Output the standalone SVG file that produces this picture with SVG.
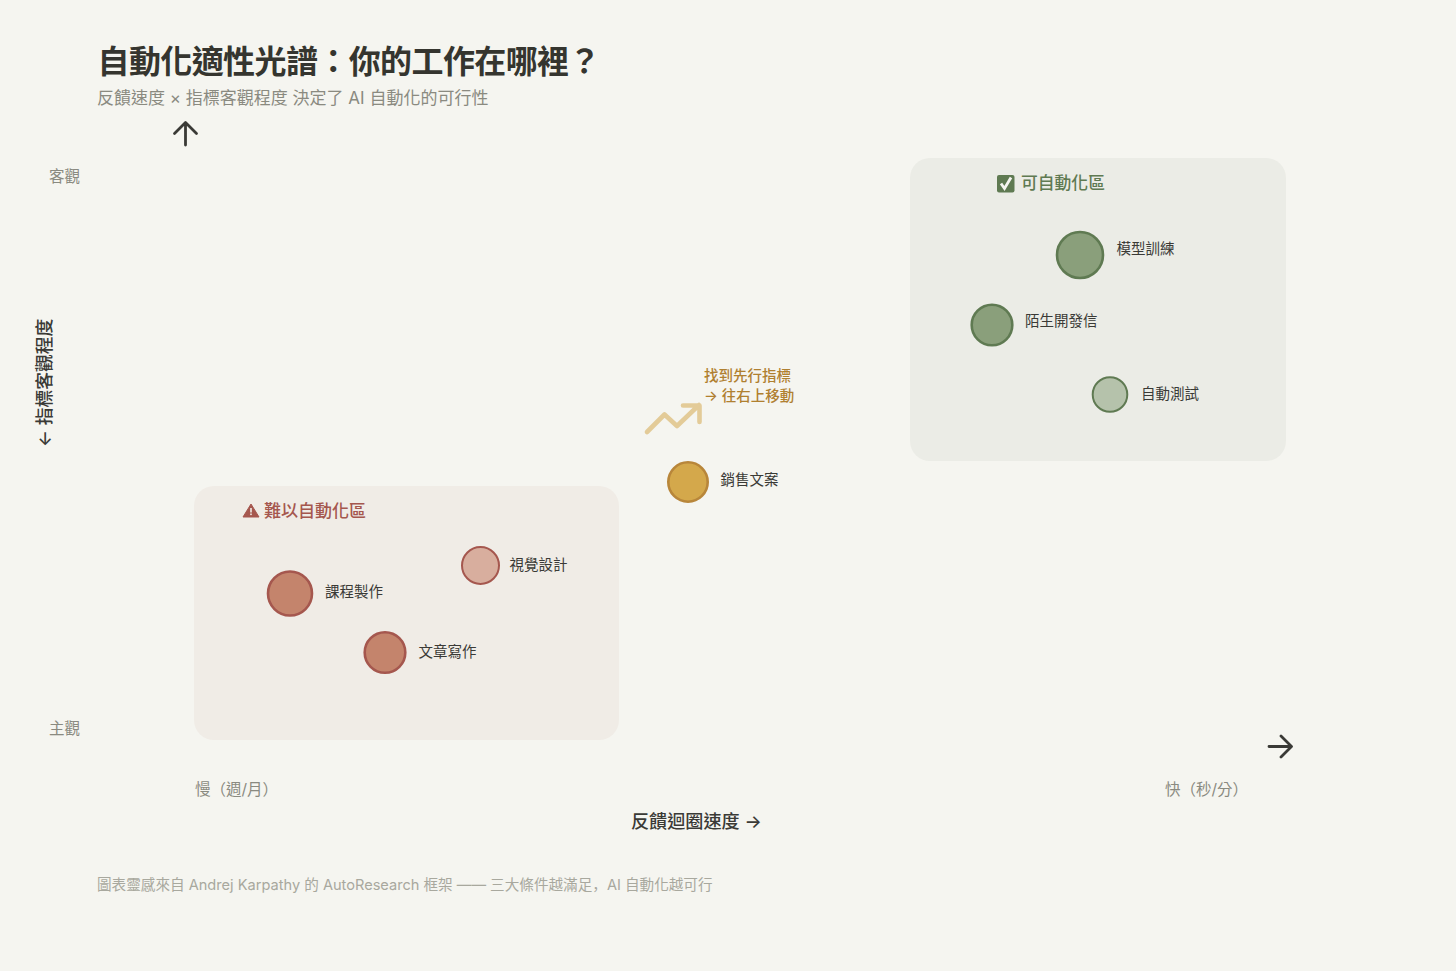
<svg xmlns="http://www.w3.org/2000/svg" width="1456" height="971" viewBox="0 0 1456 971">
<style>
text{font-family:Inter,"Noto Sans CJK TC","Noto Sans CJK SC",sans-serif}
.lbl{font-size:14.5px;fill:#3a3a36}
.axis{font-size:15.500px;fill:#8a8a80}
.green{fill:#8a9f7b;stroke:#5f7a52;stroke-width:2.6}
.greenl{fill:#b5c2ab;stroke:#5f7a52;stroke-width:2}
.red{fill:#c4846c;stroke:#a5574e;stroke-width:2.6}
.redl{fill:#d8ae9e;stroke:#a5574e;stroke-width:2}
.gold{fill:#d4a84b;stroke:#b8863a;stroke-width:2.6}
.arrow{fill:none;stroke:#3a3a36;stroke-width:2.8;stroke-linecap:round;stroke-linejoin:round}
</style>
<rect width="1456" height="971" fill="#f5f5f0"/>
<g id="header">
<text x="97.500" y="73" font-size="32" font-weight="700" fill="#35352f" letter-spacing="-0.6">自動化適性光譜&#xFF1A;你的工作在哪裡&#xFF1F;</text>
<text x="97" y="104" font-size="17" fill="#8a8a80">反饋速度 × 指標客觀程度 決定了 AI 自動化的可行性</text>
</g>
<g id="zones">
<g id="zone-auto">
<rect x="910" y="158" width="376" height="303" rx="20" fill="#ebece6"/>
<rect x="997" y="175" width="17.500" height="17.500" rx="2" fill="#5f7a52"/>
<path d="M1001 183.500L1004.500 188.500L1011 177.500" fill="none" stroke="#f5f5f0" stroke-width="2.800"/>
<text x="1021" y="189" font-size="16.800" font-weight="500" fill="#5f7a52">可自動化區</text>
</g>
<g id="zone-hard">
<rect x="194" y="486" width="425" height="254" rx="20" fill="#f0ece6"/>
<path d="M251 504L259 517H243Z" fill="#a5574e" stroke="#a5574e" stroke-linejoin="round"/>
<rect x="250.200" y="508" width="1.600" height="4.500" fill="#f0ebe6"/><rect x="250.200" y="513.500" width="1.600" height="1.600" fill="#f0ebe6"/>
<text x="264" y="517" font-size="17" font-weight="500" fill="#a5574e">難以自動化區</text>
</g>
</g>
<g id="connectors">
<path class="arrow" d="M185.500 145V123M174.500 133.500L185.500 122.500L196.500 133.500"/>
<path class="arrow" d="M1269 746.500H1291M1281 736L1291.500 746.500L1281 757"/>
<path d="M647 432L664.500 414.500L677 426L699 405M683 405.500H699.500V422" fill="none" stroke="#e3cb98" stroke-width="4.600" stroke-linecap="round" stroke-linejoin="round"/>
</g>
<g id="node-model"><circle class="green" cx="1080" cy="255" r="23"/><text class="lbl" x="1116.500" y="253.500">模型訓練</text></g>
<g id="node-cold"><circle class="green" cx="992" cy="325" r="20.300"/><text class="lbl" x="1025" y="326">陌生開發信</text></g>
<g id="node-test"><circle class="greenl" cx="1110" cy="394.500" r="17.300"/><text class="lbl" x="1141" y="399">自動測試</text></g>
<g id="node-sales"><circle class="gold" cx="688" cy="482" r="19.700"/><text class="lbl" x="720.500" y="485">銷售文案</text></g>
<g id="node-course"><circle class="red" cx="290" cy="593.500" r="22"/><text class="lbl" x="325" y="597">課程製作</text></g>
<g id="node-visual"><circle class="redl" cx="480.500" cy="565.500" r="18.500"/><text class="lbl" x="509.500" y="570">視覺設計</text></g>
<g id="node-writing"><circle class="red" cx="385" cy="652.500" r="20.300"/><text class="lbl" x="418.500" y="657">文章寫作</text></g>
<g id="labels">
<text x="704" y="381" font-size="14.500" font-weight="500" fill="#b08030">找到先行指標</text>
<text x="704" y="401" font-size="14.500" font-weight="500" fill="#b08030">→ 往右上移動</text>
<text class="axis" x="49" y="182">客觀</text>
<text class="axis" x="49" y="734">主觀</text>
<text class="axis" x="195" y="795">慢&#xFF08;週/月&#xFF09;</text>
<text class="axis" x="1165" y="795">快&#xFF08;秒/分&#xFF09;</text>
<text x="631" y="828" font-size="18.100" font-weight="500" fill="#3a3a36">反饋迴圈速度 →</text>
<text transform="translate(50.500,447) rotate(-90)" font-size="17.800" font-weight="500" fill="#3a3a36">← 指標客觀程度</text>
<text x="97" y="890" font-size="14.600" fill="#a8a89e">圖表靈感來自 Andrej Karpathy 的 AutoResearch 框架 —— 三大條件越滿足<tspan font-family="'Noto Sans CJK SC',sans-serif">&#xFF0C;</tspan>AI 自動化越可行</text>
</g>
</svg>
